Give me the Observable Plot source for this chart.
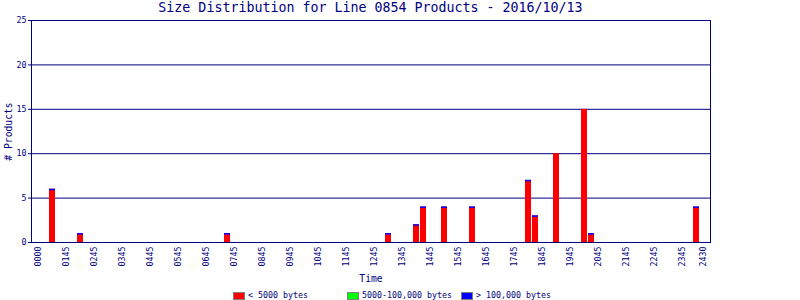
<!DOCTYPE html>
<html><head><meta charset="utf-8">
<script src="https://cdn.jsdelivr.net/npm/d3@7"></script>
<script src="https://cdn.jsdelivr.net/npm/@observablehq/plot@0.6"></script>
<style>
body{margin:0;background:#fff;}
#wrap{position:relative;width:800px;height:300px;overflow:hidden;font-family:"DejaVu Sans Mono",monospace;color:#000080;background:#fff;}
#title{position:absolute;left:0;top:0;width:741px;text-align:center;font-size:13.3px;line-height:16px;white-space:nowrap;}
#chart{position:absolute;left:0;top:0;}
#legend{position:absolute;left:233px;top:291px;display:flex;font-size:8.3px;line-height:9px;}
.item{width:114px;height:9px;display:flex;align-items:center;white-space:nowrap;}
.sw{width:10px;height:6px;border:1px solid #808080;margin-right:3px;flex:none;}
</style></head>
<body>
<div id="wrap">
  <div id="chart"></div>
  <div id="title"></div>
  <div id="legend"></div>
</div>
<script>
const titleText = "Size Distribution for Line 0854 Products - 2016/10/13";
const xLabel = "Time";
const yLabel = "# Products";
const nBins = 96;
const binIdx = [2, 6, 27, 50, 54, 55, 58, 62, 70, 71, 74, 78, 79, 94];
const counts = [6, 1, 1, 1, 2, 4, 4, 4, 7, 3, 10, 15, 1, 4];
const capped = [1, 1, 1, 1, 1, 1, 1, 1, 1, 1, 0, 0, 1, 1];
const tickIdx = [0,4,8,12,16,20,24,28,32,36,40,44,48,52,56,60,64,68,72,76,80,84,88,92,95];
const tickLabels = ["0000","0145","0245","0345","0445","0545","0645","0745","0845","0945","1045","1145","1245","1345","1445","1545","1645","1745","1845","1945","2045","2145","2245","2345","2430"];
const yTicks = [0, 5, 10, 15, 20, 25];
const gridVals = [5, 10, 15, 20];
const legendNames = ["< 5000 bytes", "5000-100,000 bytes", "> 100,000 bytes"];
const legendColors = ["#ff0000", "#00ff00", "#0000ff"];

const navy = "#000080";
const data = binIdx.map((b, i) => ({bin: b, count: counts[i], cap: capped[i]}));

document.getElementById("title").textContent = titleText;

const chart = Plot.plot({
  width: 800, height: 286,
  marginLeft: 31, marginRight: 90, marginTop: 20, marginBottom: 44,
  style: {fontFamily: "'DejaVu Sans Mono', monospace", fontSize: "8.3px", color: navy, background: "white", overflow: "visible"},
  x: {type: "band", domain: d3.range(nBins), paddingInner: 0.14, paddingOuter: 0.5, align: 0.5},
  y: {domain: [0, 25]},
  marks: [
    Plot.ruleY(gridVals, {stroke: navy}),
    Plot.barY(data, {x: "bin", y: "count", fill: "#ff0000"}),
    Plot.barY(data.filter(d => d.cap), {x: "bin", y1: "count", y2: "count", fill: "#0000ff", insetBottom: -1.5, insetTop: 0}),
    Plot.frame({stroke: navy}),
    Plot.axisY({ticks: yTicks, tickSize: 3, tickPadding: 2, label: null}),
    Plot.axisX({ticks: tickIdx, tickFormat: i => tickLabels[tickIdx.indexOf(i)], tickRotate: -90, tickSize: 0, tickPadding: 4, label: null}),
    Plot.text([xLabel], {frameAnchor: "bottom", dy: 36.6, fontSize: 9.7, textAnchor: "middle", lineAnchor: "middle"}),
    Plot.text([yLabel], {frameAnchor: "left", dx: -23, rotate: -90, fontSize: 9.7, textAnchor: "middle", lineAnchor: "middle"})
  ]
});
document.getElementById("chart").appendChild(chart);

const leg = document.getElementById("legend");
legendNames.forEach((n, i) => {
  const it = document.createElement("div");
  it.className = "item";
  const sw = document.createElement("div");
  sw.className = "sw";
  sw.style.background = legendColors[i];
  const t = document.createElement("span");
  t.textContent = n;
  it.appendChild(sw); it.appendChild(t);
  leg.appendChild(it);
});
</script>
</body></html>
